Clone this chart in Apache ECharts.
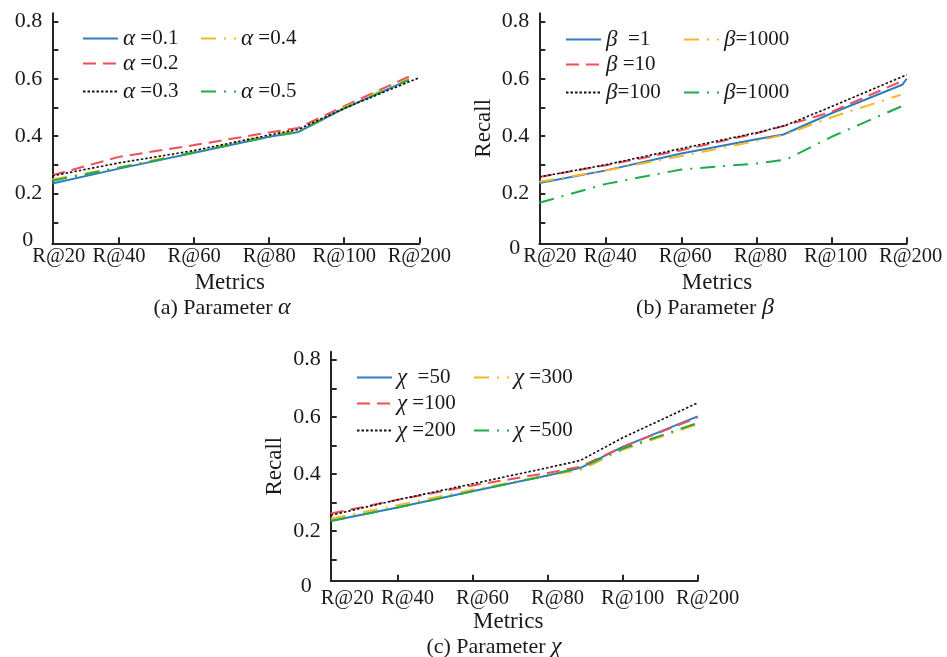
<!DOCTYPE html>
<html>
<head>
<meta charset="utf-8">
<script src="https://cdn.jsdelivr.net/npm/echarts@6/dist/echarts.min.js"></script>
<style>html,body{margin:0;padding:0;background:#fff;}#c{width:947px;height:657px;}</style>
</head>
<body>
<div id="c"></div>
<script>
// ---------- data ----------
const xLabels = ['R@20', 'R@40', 'R@60', 'R@80', 'R@100', 'R@200'];
const xTickPos = [1, 2, 3, 4, 5];
const xLabelPos = [0.11, 1, 2, 3, 4, 5];
const yTicks = [0.1, 0.2, 0.3, 0.4, 0.5, 0.6, 0.7, 0.8];
const yLabelVals = [0.027, 0.2, 0.4, 0.6, 0.8];

// (a) Parameter alpha
const xA = [0.11, 1, 2, 3, 3.39, 4, 4.86];
const xA3 = [0.11, 1, 2, 3, 3.39, 4, 5];
const alpha01 = [0.235, 0.287, 0.342, 0.398, 0.415, 0.497, 0.596];
const alpha02 = [0.264, 0.328, 0.369, 0.413, 0.429, 0.505, 0.607];
const alpha03 = [0.262, 0.307, 0.350, 0.404, 0.424, 0.497, 0.604];
const alpha04 = [0.249, 0.292, 0.345, 0.402, 0.420, 0.500, 0.600];
const alpha05 = [0.245, 0.290, 0.343, 0.398, 0.415, 0.497, 0.596];

// (b) Parameter beta
const xB1 = [0.11, 1, 2, 3, 3.36, 4, 4.94, 5];
const xB = [0.11, 1, 2, 3, 3.36, 4, 4.92];
const xB3 = [0.11, 1, 2, 3, 3.4, 4, 5];
const beta1 = [0.237, 0.281, 0.340, 0.389, 0.406, 0.480, 0.579, 0.600];
const beta10 = [0.258, 0.299, 0.351, 0.410, 0.435, 0.485, 0.590];
const beta100 = [0.258, 0.301, 0.357, 0.412, 0.439, 0.503, 0.614];
const beta1000a = [0.241, 0.281, 0.331, 0.383, 0.404, 0.466, 0.544];
const beta1000b = [0.168, 0.234, 0.284, 0.305, 0.319, 0.398, 0.512];

// (c) Parameter chi
const xC = [0.11, 1, 2, 3, 3.44, 4, 5];
const chi50 = [0.236, 0.283, 0.340, 0.395, 0.422, 0.495, 0.602];
const chi100 = [0.262, 0.310, 0.360, 0.404, 0.426, 0.495, 0.598];
const chi200 = [0.256, 0.310, 0.366, 0.422, 0.448, 0.527, 0.649];
const chi300 = [0.244, 0.291, 0.345, 0.395, 0.415, 0.485, 0.574];
const chi500 = [0.236, 0.283, 0.340, 0.395, 0.422, 0.489, 0.579];

const legendA = [' =0.1', ' =0.2', ' =0.3', ' =0.4', ' =0.5'];
const legendB = ['  =1', ' =10', '=100', '=1000', '=1000'];
const legendC = ['  =50', ' =100', ' =200', ' =300', ' =500'];
const greek = ['α', 'β', 'χ'];
const captions = ['(a) Parameter ', '(b) Parameter ', '(c) Parameter '];
const xName = 'Metrics';
const yName = 'Recall';

// ---------- styles ----------
const FONT = 'Liberation Serif';
const TXT = '#1a1a1a';
const AX = '#262626';
const styles = [
  {color: '#2E7CC2', type: 'solid', width: 2},
  {color: '#EE4F58', type: [13, 7], width: 2},
  {color: '#111111', type: [2.5, 2], width: 1.6},
  {color: '#F5B626', type: [15, 8, 2, 8], width: 2},
  {color: '#1FAA4B', type: [15, 8, 2, 8], width: 2}
];

const panels = [
  {grid: {left: 52.3, top: 13.3, width: 367, height: 230},
   xs: [xA, xA, xA3, xA, xA], ys: [alpha01, alpha02, alpha03, alpha04, alpha05], leg: legendA,
   legPos: {c1: 82, c2: 200, rows: [27, 52, 80]}, firstPad: 13, otherPad: 0, xMargin: 3,
   zeroPad: [0, 9, 6, 0], yName: false, cap: {x: 222, y: 308}},
  {grid: {left: 539.3, top: 13.3, width: 367.4, height: 230},
   xs: [xB1, xB, xB3, xB, xB3], ys: [beta1, beta10, beta100, beta1000a, beta1000b], leg: legendB,
   legPos: {c1: 565, c2: 683, rows: [28, 53, 81]}, firstPad: 21, otherPad: 8, xMargin: 3,
   zeroPad: [10, 9, 0, 0], yName: true, cap: {x: 705, y: 308}},
  {grid: {left: 330.7, top: 351.7, width: 367, height: 229},
   xs: [xC, xC, xC, xC, xC], ys: [chi50, chi100, chi200, chi300, chi500], leg: legendC,
   legPos: {c1: 356, c2: 473, rows: [366, 392, 419]}, firstPad: 33, otherPad: 20, xMargin: 7,
   zeroPad: [12, 9, 0, 0], yName: true, cap: {x: 494, y: 647}}
];

const grids = [], xAxes = [], yAxes = [], series = [], legends = [], graphics = [];
const dispMap = {};

panels.forEach((p, pi) => {
  grids.push(Object.assign({containLabel: false}, p.grid));
  xAxes.push({
    type: 'value', gridIndex: pi, min: 0.11, max: 5,
    splitLine: {show: false},
    axisLine: {show: true, onZero: false, lineStyle: {color: AX, width: 2}},
    axisTick: {show: true, inside: true, length: 6, customValues: xTickPos, lineStyle: {color: AX, width: 2}},
    axisLabel: {
      customValues: xLabelPos, margin: p.xMargin, color: TXT,
      fontFamily: FONT, fontSize: 20.5,
      formatter: v => {
        const i = Math.round(v);
        return (i === 0 ? '{f|' : '{o|') + xLabels[i] + '}';
      },
      rich: {
        f: {fontFamily: FONT, fontSize: 20.5, color: TXT, padding: [0, 0, 0, p.firstPad]},
        o: {fontFamily: FONT, fontSize: 20.5, color: TXT, padding: [0, 0, 0, p.otherPad]}
      }
    },
    name: xName, nameLocation: 'middle', nameGap: pi === 2 ? 30 : 28,
    nameTextStyle: {fontFamily: FONT, fontSize: 23, color: TXT, padding: [0, 12, 0, 0]}
  });
  yAxes.push({
    type: 'value', gridIndex: pi, min: 0.027, max: 0.828,
    splitLine: {show: false},
    axisLine: {show: true, lineStyle: {color: AX, width: 2}},
    axisTick: {show: true, inside: true, length: 6, customValues: yTicks, lineStyle: {color: AX, width: 2}},
    axisLabel: {
      customValues: yLabelVals, margin: 10, color: TXT, fontFamily: FONT, fontSize: 22,
      formatter: v => v < 0.1 ? '{z|0}' : v.toFixed(1),
      rich: {z: {fontFamily: FONT, fontSize: 22, color: TXT, padding: p.zeroPad}}
    },
    name: p.yName ? yName : '', nameLocation: 'middle', nameGap: 44, nameRotate: 90,
    nameTextStyle: {fontFamily: FONT, fontSize: 23, color: TXT}
  });
  p.ys.forEach((ys, si) => {
    const id = 'p' + pi + 's' + si;
    dispMap[id] = '{g|' + greek[pi] + '}' + p.leg[si];
    series.push({
      name: id, type: 'line', xAxisIndex: pi, yAxisIndex: pi,
      data: ys.map((y, k) => [p.xs[si][k], y]),
      symbol: 'none', smooth: false,
      color: styles[si].color,
      lineStyle: {color: styles[si].color, type: styles[si].type, width: styles[si].width},
      z: si === 2 ? 5 : 3
    });
    const col = (si === 3 || si === 4) ? p.legPos.c2 : p.legPos.c1;
    const row = si < 3 ? si : (si === 3 ? 0 : 2);
    legends.push({
      data: [id], left: col, top: p.legPos.rows[row], orient: 'horizontal',
      padding: 0, itemWidth: 35, itemHeight: 14, itemGap: 0, selectedMode: false,
      itemStyle: {opacity: 0, borderWidth: 0, color: 'rgba(0,0,0,0)'},
      formatter: n => dispMap[n],
      textStyle: {fontFamily: FONT, fontSize: 21, color: TXT, lineHeight: 22,
        rich: {g: {fontFamily: FONT, fontSize: 23, fontStyle: 'italic', color: TXT, lineHeight: 22}}}
    });
  });
  graphics.push({
    type: 'text', x: p.cap.x, y: p.cap.y,
    style: {
      text: captions[pi] + '{g|' + greek[pi] + '}',
      fontFamily: FONT, fontSize: 22, fill: TXT,
      align: 'center', verticalAlign: 'middle', textAlign: 'center', textVerticalAlign: 'middle',
      rich: {g: {fontFamily: FONT, fontSize: 24, fontStyle: 'italic', fill: TXT, color: TXT}}
    }
  });
});

const chart = echarts.init(document.getElementById('c'), null, {renderer: 'canvas'});
chart.setOption({
  animation: false,
  backgroundColor: '#ffffff',
  grid: grids, xAxis: xAxes, yAxis: yAxes, series: series, legend: legends, graphic: graphics
});
</script>
</body>
</html>
